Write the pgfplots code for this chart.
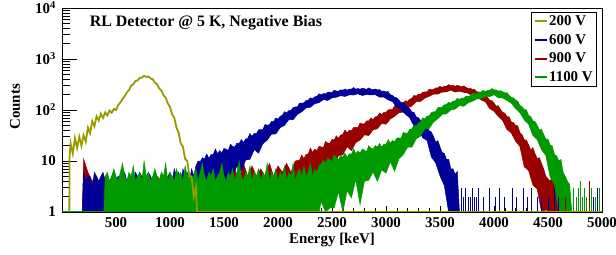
\documentclass[border=0pt]{standalone}
\usepackage{fontspec}
\setmainfont{Liberation Serif}
\usepackage{pgfplots}
\pgfplotsset{compat=1.18}
\definecolor{cOl}{RGB}{153,153,0}
\definecolor{cBl}{RGB}{0,0,153}
\definecolor{cRd}{RGB}{153,0,0}
\definecolor{cGr}{RGB}{0,153,0}
\begin{document}
\begin{tikzpicture}[font=\bfseries\fontsize{15}{17}\selectfont]
\begin{axis}[
  name=ax,
  scale only axis, width=540bp, height=204bp,
  xmin=0, xmax=5000, ymode=log, ymin=1, ymax=10000,
  axis line style={line width=0.8bp},
  tick align=inside, xtick pos=bottom, ytick pos=left,
  xtick={500,1000,1500,2000,2500,3000,3500,4000,4500,5000},
  xticklabels={500,1000,1500,2000,2500,3000,3500,4000,4500,5000},
  minor x tick num=4,
  ytick={1,10,100,1000,10000},
  yticklabels={1,10,10\textsuperscript{2},10\textsuperscript{3},10\textsuperscript{4}},
  major tick length=15bp, minor tick length=8bp,
  xtick style={/pgfplots/major tick length=6bp,/pgfplots/minor tick length=4bp},
  tick style={black, line width=0.6bp},
  xticklabel style={anchor=north, inner sep=0pt, yshift=-5bp},
  yticklabel style={anchor=east, inner sep=0pt, xshift=-6bp},
  xlabel={Energy [keV]}, ylabel={Counts},
  xlabel style={at={(axis description cs:0.5,-0.137)}, anchor=center},
  ylabel style={at={(axis description cs:-0.087,0.515)}, anchor=center},
  legend image code/.code={\draw[#1, line width=2bp] (0bp,0bp) -- (12bp,0bp);},
  legend cell align=left,
  legend style={at={(rel axis cs:0.991,0.98)}, anchor=north east, draw=black, line width=0.8bp, fill=white,
    font=\bfseries\fontsize{15}{17}\selectfont, inner xsep=2.5bp, inner ysep=1.5bp, row sep=4.3bp,
    nodes={inner sep=1.5bp}},
]
\addlegendimage{cOl}\addlegendentry{200 V}
\addlegendimage{cBl}\addlegendentry{600 V}
\addlegendimage{cRd}\addlegendentry{900 V}
\addlegendimage{cGr}\addlegendentry{1100 V}

% 900 V
\addplot[cRd, fill=cRd, line width=0.5bp, forget plot] table[row sep=\\] {
188 1\\ 200 11\\ 240 6\\ 280 4\\ 320 5\\ 360 3\\ 400 5\\ 440 4\\ 480 6\\ 520 3\\ 560 5\\ 600 4\\ 640 5\\ 680 3\\ 720 6\\ 760 4\\
800 5\\ 840 3\\ 880 5\\ 920 4\\ 960 6\\ 1000 3\\ 1040 5\\ 1080 4\\ 1120 5\\ 1160 3\\ 1200 6\\ 1240 4\\ 1280 5\\ 1320 3\\ 1360 7\\
1400 4\\ 1440 6\\ 1480 4\\ 1520 8\\ 1560 4\\ 1600 7\\ 1640 4\\ 1680 9\\ 1720 5\\ 1760 8\\ 1800 5\\ 1840 7\\ 1880 5\\ 1920 9\\
1960 5\\ 2000 8\\ 2040 6\\ 2080 9\\ 2120 6\\ 2160 10\\
2200 10.4\\ 2220 13.1\\ 2240 11.1\\ 2260 13.5\\ 2280 13.8\\ 2300 18\\ 2320 14.7\\ 2340 17.1\\ 2360 15.9\\ 2380 19.4\\ 2400 18.9\\
2420 18.3\\ 2440 24.2\\ 2460 22.5\\ 2480 22.3\\ 2500 26.5\\ 2520 25.9\\ 2540 31.1\\ 2560 27.9\\ 2580 32.3\\ 2600 33.3\\ 2620 40.5\\
2640 35.7\\ 2660 40.2\\ 2680 39\\ 2700 45.6\\ 2720 45.7\\ 2740 45.1\\ 2760 55.5\\ 2780 53.2\\ 2800 53.5\\ 2820 61\\ 2840 60.8\\
2860 69.6\\ 2880 65\\ 2900 72.9\\ 2920 74.7\\ 2940 87.4\\ 2960 80.9\\ 2980 89.5\\ 3000 88.9\\ 3020 100.3\\ 3040 102.3\\ 3060 103.1\\
3080 121.7\\ 3100 120\\ 3120 121.4\\ 3140 135.2\\ 3160 136.4\\ 3180 151.9\\ 3200 147.1\\ 3220 162.7\\ 3240 170\\ 3260 193.5\\
3280 186.8\\ 3300 204\\ 3320 203.6\\ 3340 223\\ 3360 226\\ 3380 227.5\\ 3400 256\\ 3420 250.7\\ 3440 252\\ 3460 270\\ 3480 271\\
3500 291\\ 3520 278\\ 3540 292\\ 3560 293\\ 3580 315\\ 3600 298\\ 3620 304\\ 3640 293\\ 3660 304\\ 3680 296\\ 3700 286\\ 3720 298\\
3740 278\\ 3760 264\\ 3780 267\\ 3800 252\\ 3820 253\\ 3840 227.5\\ 3860 226\\ 3880 214\\ 3900 220\\ 3920 185.8\\ 3940 177\\
3960 155.7\\ 3980 152.9\\ 4000 136.4\\ 4020 119.3\\ 4040 121.2\\ 4060 102.3\\ 4080 89.9\\ 4100 87\\ 4120 74\\ 4140 73.1\\ 4160 58.4\\
4180 56.8\\ 4200 49.7\\ 4220 49\\ 4240 35.8\\ 4260 32.9\\ 4280 26\\ 4300 25.6\\ 4320 20.8\\ 4340 16.3\\ 4360 18.3\\ 4380 13.9\\
4400 11.2\\ 4420 11.6\\ 4440 9\\ 4460 7\\ 4480 5\\ 4500 4.5\\ 4520 4\\ 4540 5\\ 4560 3.5\\ 4580 3.5\\ 4600 3\\ 4620 2.5\\ 4640 1\\
4600 1\\ 4520 1\\ 4480 1.1\\ 4440 1\\ 4400 2.8\\ 4360 3.4\\ 4320 6.5\\ 4280 7.7\\ 4240 19.2\\ 4200 24.4\\ 4160 35.5\\ 4120 41.4\\
4080 62\\ 4040 74.6\\ 4000 94.7\\ 3960 106.6\\ 3920 145\\ 3880 158\\ 3840 180\\ 3800 189\\ 3760 214\\ 3720 222\\ 3680 233\\
3640 224.6\\ 3600 245\\ 3560 226\\ 3520 225\\ 3480 205.6\\ 3440 204\\ 3400 185.7\\ 3360 171\\ 3320 147\\ 3280 145.7\\ 3240 120\\
3200 109.5\\ 3160 91\\ 3120 88.6\\ 3080 75\\ 3040 66.6\\ 3000 52.5\\ 2960 54.7\\ 2920 43\\ 2880 40.8\\ 2840 31.6\\ 2800 32.5\\
2760 25.8\\ 2720 22.9\\ 2680 15.9\\ 2640 19.1\\ 2600 13.2\\ 2560 12.8\\ 2520 8\\ 2480 9.5\\ 2440 6.4\\ 2400 5.4\\ 2360 2.2\\
2320 4.9\\ 2280 2\\ 2240 2.3\\ 2200 1\\ 190 1\\
};

% 600 V
\addplot[cBl, fill=cBl, line width=0.5bp, forget plot] table[row sep=\\] {
188 1\\ 200 6\\ 220 4\\ 240 5\\ 260 5\\ 280 3\\ 300 6\\ 320 5\\ 340 4\\ 360 5\\ 380 6\\ 400 4\\ 420 5\\ 440 3\\ 460 5\\ 480 6\\
500 4\\ 520 5\\ 540 5\\ 560 3\\ 580 6\\ 600 4\\ 620 5\\ 640 5\\ 660 4\\ 680 6\\ 700 5\\ 720 3\\ 740 5\\ 760 5\\ 780 4\\ 800 6\\
820 5\\ 840 4\\ 860 5\\ 880 5\\ 900 3\\ 920 6\\ 940 5\\ 960 4\\ 980 5\\ 1000 6\\ 1020 4\\ 1040 7\\ 1060 5\\ 1080 6\\ 1100 4\\
1120 7\\ 1140 5\\ 1160 6\\ 1180 4\\ 1200 7\\ 1220 5\\ 1240 8\\
1260 10\\ 1280 9.7\\ 1300 11.6\\ 1320 11\\ 1340 13.6\\ 1360 11.2\\ 1380 13.4\\ 1400 13.4\\ 1420 17.1\\ 1440 13.9\\ 1460 15.9\\
1480 14.6\\ 1500 17.6\\ 1520 17\\ 1540 16.1\\ 1560 21.3\\ 1580 19.3\\ 1600 18.8\\ 1620 22.5\\ 1640 21.8\\ 1660 26.3\\ 1680 23.1\\
1700 26.9\\ 1720 27.8\\ 1740 34.5\\ 1760 30.4\\ 1780 34.9\\ 1800 34.2\\ 1820 40.8\\ 1840 41.3\\ 1860 41.3\\ 1880 51.9\\ 1900 50.3\\
1920 51.2\\ 1940 59.7\\ 1960 59.8\\ 1980 69.6\\ 2000 66.1\\ 2020 75.1\\ 2040 78.5\\ 2060 92.8\\ 2080 87.5\\ 2100 97.4\\ 2120 97.6\\
2140 111.6\\ 2160 114.5\\ 2180 116\\ 2200 137\\ 2220 135.4\\ 2240 138.6\\ 2260 154\\ 2280 155.9\\ 2300 173\\ 2320 166.3\\ 2340 181\\
2360 185\\ 2380 207\\ 2400 197.4\\ 2420 209.5\\ 2440 206.8\\ 2460 223\\ 2480 223\\ 2500 221\\ 2520 244\\ 2540 236\\ 2560 234\\
2580 248\\ 2600 245\\ 2620 258\\ 2640 245\\ 2660 256\\ 2680 257\\ 2700 276\\ 2720 256\\ 2740 264\\ 2760 255\\ 2780 268\\ 2800 262\\
2820 253\\ 2840 271\\ 2860 257\\ 2880 250\\ 2900 258\\ 2920 246\\ 2940 252\\ 2960 232\\ 2980 235\\ 3000 227\\ 3020 229\\ 3040 199\\
3060 193\\ 3080 175\\ 3100 174\\ 3120 156\\ 3140 138.5\\ 3160 141.7\\ 3180 123\\ 3200 110.6\\ 3220 106\\ 3240 91.7\\ 3260 89.5\\
3280 72.7\\ 3300 70.5\\ 3320 62.3\\ 3340 62.7\\ 3360 49.6\\ 3380 46.8\\ 3400 38.8\\ 3420 37\\ 3440 30.2\\ 3460 23.2\\ 3480 25.1\\
3500 18.9\\ 3520 14.6\\ 3540 14.1\\ 3560 10.7\\ 3580 10.8\\ 3600 7\\ 3620 7\\ 3640 5.5\\ 3660 6.2\\ 3680 1\\
3580 1\\ 3540 3.3\\ 3500 5.1\\ 3460 9.2\\ 3420 12\\ 3380 25.3\\ 3340 28.6\\ 3300 41.7\\ 3260 48\\ 3220 70\\ 3180 83\\ 3140 101\\
3100 114\\ 3060 146\\ 3020 158\\ 2980 179\\ 2940 179\\ 2900 200\\ 2860 197\\ 2820 201\\ 2780 192.5\\ 2740 208\\ 2700 196.6\\
2660 198\\ 2620 184.5\\ 2580 191\\ 2540 178\\ 2500 173\\ 2460 154\\ 2420 160\\ 2380 139.5\\ 2340 132.6\\ 2300 113.4\\ 2260 110\\
2220 92.6\\ 2180 81.9\\ 2140 64.5\\ 2100 64.8\\ 2060 49.9\\ 2020 45.2\\ 1980 33.9\\ 1940 33.7\\ 1900 25.7\\ 1860 21.8\\ 1820 14.3\\
1780 16.7\\ 1740 10.8\\ 1700 10.4\\ 1660 6.3\\ 1620 7.9\\ 1580 5.3\\ 1540 4.8\\ 1500 1.8\\ 1460 4.7\\ 1420 2\\ 1380 2.6\\ 1340 1\\
1300 2.1\\ 1260 1\\ 190 1\\
};

% 1100 V
\addplot[cGr, fill=cGr, line width=0.5bp, forget plot] table[row sep=\\] {
388 1\\ 400 5\\ 420 6\\ 440 4\\ 460 5\\ 480 7\\ 500 5\\ 520 4\\ 540 6\\ 560 9\\ 580 5\\ 600 4\\ 620 6\\ 640 5\\ 660 8\\ 680 4\\
700 5\\ 720 6\\ 740 4\\ 760 10\\ 780 5\\ 800 6\\ 820 4\\ 840 5\\ 860 7\\ 880 5\\ 900 4\\ 920 6\\ 940 5\\ 960 9\\ 980 4\\ 1000 6\\
1020 5\\ 1040 4\\ 1060 7\\ 1080 5\\ 1100 6\\ 1120 4\\ 1140 8\\ 1160 5\\ 1180 6\\ 1200 4\\ 1220 5\\ 1240 7\\ 1260 4\\ 1280 6\\
1300 9\\ 1320 5\\ 1340 4\\ 1360 6\\ 1380 5\\ 1400 7\\ 1420 4\\ 1440 5\\ 1460 6\\ 1480 9\\ 1500 5\\ 1520 4\\ 1540 6\\ 1560 5\\
1580 7\\ 1600 4\\ 1620 6\\ 1640 10\\ 1660 5\\ 1680 4\\ 1700 6\\ 1720 5\\ 1740 8\\ 1760 4\\ 1780 6\\ 1800 5\\ 1820 7\\ 1840 4\\
1860 6\\ 1880 5\\ 1900 9\\ 1920 4\\ 1940 6\\ 1960 5\\ 1980 7\\ 2000 4\\ 2020 6\\ 2040 5\\ 2060 8\\ 2080 4\\ 2100 6\\ 2120 5\\
2140 9\\ 2160 4\\ 2180 6\\ 2200 7\\ 2220 5\\ 2240 8\\ 2260 5\\ 2280 6\\ 2300 9\\ 2320 5\\ 2340 7\\ 2360 6\\ 2380 8\\
2400 8.8\\ 2420 10.2\\ 2440 9.1\\ 2460 11.3\\ 2480 10.6\\ 2500 9.7\\ 2520 13.2\\ 2540 11.5\\ 2560 10.7\\ 2580 12.8\\ 2600 11.8\\
2620 14.3\\ 2640 11.7\\ 2660 13.8\\ 2680 13.6\\ 2700 17.3\\ 2720 13.8\\ 2740 15.7\\ 2760 14.3\\ 2780 17.2\\ 2800 16.3\\ 2820 15.2\\
2840 20\\ 2860 17.9\\ 2880 17.1\\ 2900 20\\ 2920 18.7\\ 2940 22.1\\ 2960 18.6\\ 2980 21.3\\ 3000 21.1\\ 3020 26.2\\ 3040 22.2\\
3060 25.2\\ 3080 23.7\\ 3100 28.2\\ 3120 28.3\\ 3140 27.9\\ 3160 36.4\\ 3180 35\\ 3200 35.3\\ 3220 42\\ 3240 42.6\\ 3260 50.4\\
3280 47.8\\ 3300 55.6\\ 3320 58.3\\ 3340 70.6\\ 3360 66.5\\ 3380 75.9\\ 3400 76.8\\ 3420 88.9\\ 3440 91.8\\ 3460 93.4\\ 3480 112\\
3500 112.3\\ 3520 113.8\\ 3540 126.3\\ 3560 127.8\\ 3580 141.8\\ 3600 136.4\\ 3620 147.9\\ 3640 150.6\\ 3660 169.8\\ 3680 160.1\\
3700 171.5\\ 3720 169.6\\ 3740 186\\ 3760 187.5\\ 3780 187.4\\ 3800 212\\ 3820 207.9\\ 3840 208.9\\ 3860 225\\ 3880 224.4\\
3900 242.2\\ 3920 229.6\\ 3940 242.6\\ 3960 242.9\\ 3980 263.4\\ 4000 247.3\\ 4020 248.3\\ 4040 234.2\\ 4060 239.3\\ 4080 228.2\\
4100 215.9\\ 4120 218.7\\ 4140 193.9\\ 4160 176\\ 4180 172.7\\ 4200 155.9\\ 4220 148.5\\ 4240 122.5\\ 4260 115.5\\ 4280 101.4\\
4300 101\\ 4320 78.7\\ 4340 73.6\\ 4360 61.3\\ 4380 59.3\\ 4400 50.3\\ 4420 40.5\\ 4440 41.6\\ 4460 33.2\\ 4480 27.2\\ 4500 26.5\\
4520 20.4\\ 4540 19.6\\ 4560 13.3\\ 4580 12.6\\ 4600 10\\ 4620 10.7\\ 4640 6\\ 4660 5\\ 4680 4\\ 4700 3.5\\ 4720 1\\
4600 1\\ 4560 3.5\\ 4520 4.8\\ 4480 12.8\\ 4440 16.6\\ 4400 26.3\\ 4360 31.6\\ 4320 52.9\\ 4280 63.8\\ 4240 88.4\\ 4200 107\\
4160 136\\ 4120 154\\ 4080 173\\ 4040 173\\ 4000 199.6\\ 3960 182.7\\ 3920 182\\ 3880 165\\ 3840 165\\ 3800 148.5\\ 3760 137.8\\
3720 118\\ 3680 122.3\\ 3640 104\\ 3600 100.3\\ 3560 84\\ 3520 82.2\\ 3480 67.5\\ 3440 58.1\\ 3400 43.2\\ 3360 43\\ 3320 30.6\\
3280 27.3\\ 3240 18.7\\ 3200 18.7\\ 3160 13.4\\ 3120 11.1\\ 3080 6.3\\ 3040 9.6\\ 3000 5.8\\ 2960 6.7\\ 2920 4\\ 2880 6.1\\
2840 4.2\\ 2800 4\\ 2760 1.4\\ 2720 4.3\\ 2680 1.9\\ 2640 2.6\\ 2600 1\\ 2560 2.5\\ 2520 1.2\\ 2480 1.2\\ 2440 1\\ 2400 1.6\\
2380 1\\ 388 1\\
};

% sparse tails and empty bins
\addplot[cBl, ycomb, line width=1bp, forget plot] table[row sep=\\] {
3700 3\\ 3720 2\\ 3740 3\\ 3760 2\\ 3780 2\\ 3800 3\\ 3820 2\\ 3840 2\\ 3860 3\\ 3900 2\\ 3960 3\\ 4010 2\\ 4050 3\\ 4100 2\\
4170 3\\ 4210 2\\ 4270 3\\ 4310 2\\ 4350 3\\ 4400 2\\ 4440 2\\ 4500 2\\ 4560 3\\ 4600 2\\ 4920 2\\ 4960 3\\
};
\addplot[cRd, ycomb, line width=1bp, forget plot] table[row sep=\\] {
4660 2\\ 4880 4\\
};
\addplot[cGr, ycomb, line width=1bp, forget plot] table[row sep=\\] {
4740 3\\ 4760 2\\ 4780 3\\ 4800 4\\ 4820 2\\ 4840 3\\ 4860 2\\ 4900 3\\ 4940 2\\ 4980 3\\
};
\addplot[cGr, line width=1.5bp, forget plot] table[row sep=\\] {0 1\\ 388 1\\};

% 200 V
\addplot[cOl, line width=1.8bp, forget plot] table[row sep=\\] {
60 1\\ 68 1\\ 70 12\\ 80 22\\ 100 14\\ 120 28\\ 140 18\\ 160 30\\ 180 20\\ 200 32\\ 220 24\\ 240 45\\ 260 35\\ 280 60\\ 300 48\\
320 75\\ 340 62\\ 360 85\\ 380 70\\ 400 90\\ 420 78\\ 440 98\\ 460 88\\ 480 105\\ 500 100\\ 520 125\\ 540 140\\ 560 165\\ 580 185\\
600 220\\ 620 245\\ 640 300\\ 660 320\\ 680 370\\ 700 380\\ 720 430\\ 740 430\\ 760 470\\ 780 445\\ 800 455\\ 820 415\\ 840 400\\
860 345\\ 880 320\\ 900 265\\ 920 240\\ 940 195\\ 960 175\\ 980 135\\ 1000 115\\ 1020 82\\ 1040 70\\ 1060 45\\ 1080 36\\ 1100 22\\
1120 19\\ 1140 11\\ 1160 10\\ 1180 5\\ 1200 5\\ 1220 2\\ 1240 3\\ 1250 1\\ 5000 1\\
};

\node[anchor=west, font=\bfseries\fontsize{16}{18}\selectfont] at (rel axis cs:0.045,0.926) {RL Detector @ 5 K, Negative Bias};
\end{axis}
\pgfresetboundingbox
\path ([xshift=-62bp,yshift=-43bp]ax.south west) rectangle ([xshift=14bp,yshift=8bp]ax.north east);
\end{tikzpicture}
\end{document}
